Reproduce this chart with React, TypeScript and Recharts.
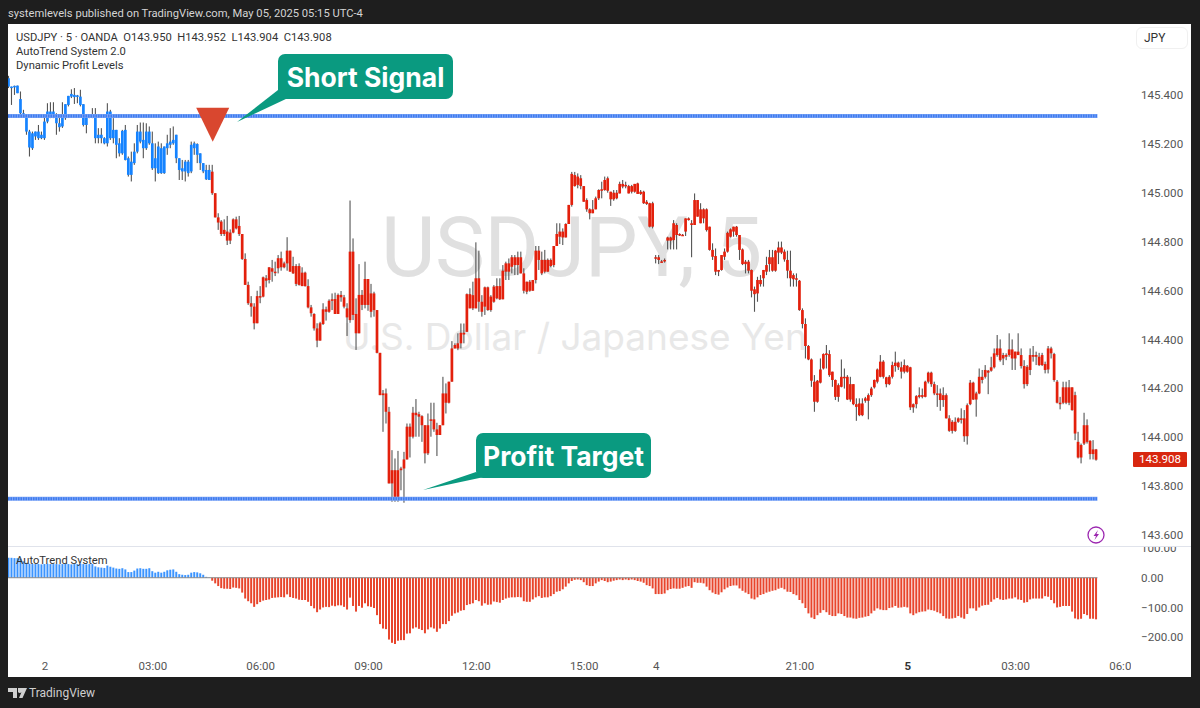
import { Bar, BarChart, Cell, ReferenceDot, ReferenceLine, XAxis, YAxis } from 'recharts'

// 5 minute bars, May 2 to May 5 (one value per bar)
const highs = [
  145.478,145.434,145.438,145.438,145.414,145.339,145.318,145.257,145.250,145.250,
  145.277,145.250,145.318,145.366,145.370,145.370,145.325,145.312,145.370,145.362,
  145.396,145.423,145.428,145.400,145.421,145.362,145.318,145.318,145.346,145.346,
  145.264,145.264,145.227,145.366,145.339,145.305,145.257,145.223,145.257,145.277,
  145.148,145.168,145.202,145.277,145.287,145.287,145.284,145.271,145.250,145.202,
  145.209,145.202,145.189,145.237,145.264,145.271,145.237,145.141,145.134,145.134,
  145.134,145.209,145.209,145.202,145.161,145.121,145.114,145.114,145.114,144.998,
  144.916,144.888,144.891,144.905,144.850,144.895,144.902,144.905,144.831,144.752,
  144.636,144.577,144.548,144.599,144.618,144.657,144.663,144.695,144.725,144.718,
  144.745,144.759,144.718,144.818,144.763,144.738,144.708,144.711,144.695,144.677,
  144.646,144.541,144.507,144.466,144.472,144.548,144.534,144.564,144.588,144.591,
  144.588,144.598,144.582,144.548,144.968,144.813,144.568,144.708,144.602,144.718,
  144.647,144.627,144.595,144.520,144.345,144.193,144.199,144.124,143.947,143.913,
  143.944,143.879,143.940,144.056,144.056,144.124,144.156,144.104,144.090,144.049,
  144.097,144.141,144.141,144.059,144.049,144.247,144.220,144.227,144.393,144.384,
  144.425,144.465,144.465,144.588,144.609,144.636,144.797,144.763,144.581,144.616,
  144.616,144.581,144.622,144.650,144.650,144.704,144.718,144.731,144.745,144.745,
  144.759,144.759,144.691,144.636,144.643,144.643,144.782,144.782,144.759,144.766,
  144.731,144.731,144.782,144.875,144.875,144.854,144.875,144.950,145.085,145.085,
  145.079,145.072,145.027,144.977,144.936,144.970,144.984,145.014,145.045,145.066,
  145.066,145.004,145.011,145.011,145.045,145.052,145.045,145.032,145.032,145.036,
  145.041,145.011,145.008,144.970,144.959,144.963,144.745,144.745,144.725,144.731,
  144.820,144.820,144.888,144.875,144.834,144.831,144.895,144.899,144.888,144.997,
  144.970,144.957,144.936,144.936,144.861,144.793,144.772,144.684,144.745,144.772,
  144.841,144.854,144.861,144.864,144.827,144.772,144.725,144.725,144.686,144.616,
  144.656,144.663,144.684,144.738,144.766,144.766,144.766,144.800,144.800,144.768,
  144.763,144.763,144.670,144.670,144.643,144.527,144.486,144.377,144.322,144.254,
  144.234,144.322,144.343,144.377,144.356,144.268,144.236,144.220,144.318,144.281,
  144.254,144.247,144.217,144.159,144.159,144.159,144.165,144.179,144.206,144.236,
  144.281,144.336,144.315,144.247,144.254,144.309,144.350,144.309,144.309,144.318,
  144.295,144.288,144.138,144.172,144.204,144.199,144.231,144.268,144.268,144.227,
  144.213,144.199,144.204,144.179,144.090,144.070,144.081,144.081,144.118,144.111,
  144.138,144.234,144.227,144.186,144.281,144.275,144.295,144.275,144.329,144.363,
  144.418,144.400,144.345,144.343,144.425,144.400,144.350,144.425,144.363,144.315,
  144.295,144.363,144.373,144.350,144.345,144.345,144.309,144.373,144.370,144.345,
  144.234,144.165,144.227,144.227,144.234,144.204,144.186,144.022,143.974,144.100,
  144.073,143.988,143.988,143.952,
]

const bodyHighs = [
  145.468,145.434,145.437,145.438,145.383,145.325,145.318,145.250,145.243,145.250,
  145.250,145.237,145.291,145.332,145.332,145.332,145.318,145.284,145.312,145.362,
  145.396,145.404,145.400,145.398,145.393,145.362,145.318,145.318,145.318,145.312,
  145.237,145.237,145.223,145.332,145.332,145.257,145.257,145.202,145.253,145.257,
  145.141,145.127,145.168,145.250,145.250,145.216,145.250,145.250,145.202,145.141,
  145.189,145.182,145.189,145.202,145.209,145.216,145.237,145.141,145.100,145.127,
  145.127,145.196,145.202,145.199,145.161,145.121,145.093,145.093,145.086,144.998,
  144.899,144.882,144.848,144.841,144.837,144.891,144.891,144.864,144.831,144.729,
  144.623,144.548,144.534,144.577,144.577,144.654,144.650,144.695,144.691,144.677,
  144.732,144.732,144.711,144.763,144.763,144.700,144.700,144.700,144.673,144.673,
  144.618,144.531,144.504,144.445,144.466,144.523,144.523,144.558,144.564,144.565,
  144.582,144.582,144.572,144.527,144.759,144.759,144.504,144.582,144.582,144.647,
  144.647,144.588,144.588,144.520,144.345,144.179,144.179,144.104,143.865,143.865,
  143.865,143.872,143.909,144.043,144.043,144.100,144.100,144.094,144.086,144.049,
  144.049,144.073,144.073,144.032,144.049,144.179,144.179,144.227,144.363,144.377,
  144.384,144.427,144.427,144.585,144.585,144.581,144.650,144.650,144.554,144.613,
  144.613,144.575,144.616,144.618,144.618,144.681,144.711,144.711,144.736,144.736,
  144.736,144.736,144.670,144.636,144.636,144.643,144.763,144.763,144.725,144.725,
  144.725,144.725,144.782,144.831,144.841,144.841,144.872,144.950,145.077,145.072,
  145.066,145.059,145.027,144.970,144.932,144.932,144.977,145.011,145.014,145.052,
  145.059,145.004,145.000,145.000,145.036,145.036,145.032,145.027,145.027,145.036,
  145.038,145.004,145.004,144.963,144.957,144.957,144.736,144.736,144.719,144.725,
  144.817,144.817,144.875,144.868,144.831,144.828,144.895,144.895,144.875,144.970,
  144.970,144.932,144.932,144.932,144.861,144.766,144.741,144.684,144.745,144.759,
  144.836,144.850,144.861,144.861,144.827,144.768,144.718,144.718,144.684,144.605,
  144.643,144.643,144.684,144.704,144.736,144.736,144.763,144.776,144.776,144.759,
  144.725,144.681,144.663,144.650,144.640,144.520,144.463,144.373,144.318,144.227,
  144.231,144.277,144.340,144.343,144.340,144.268,144.234,144.213,144.247,144.247,
  144.247,144.217,144.217,144.135,144.138,144.138,144.159,144.172,144.199,144.234,
  144.277,144.309,144.309,144.245,144.247,144.295,144.305,144.305,144.286,144.295,
  144.292,144.286,144.135,144.168,144.172,144.172,144.227,144.264,144.264,144.217,
  144.179,144.179,144.172,144.172,144.077,144.063,144.063,144.077,144.077,144.077,
  144.131,144.223,144.223,144.179,144.247,144.247,144.275,144.272,144.286,144.343,
  144.363,144.363,144.336,144.336,144.359,144.359,144.350,144.350,144.336,144.291,
  144.288,144.336,144.336,144.336,144.329,144.336,144.299,144.363,144.363,144.340,
  144.227,144.141,144.204,144.204,144.204,144.204,144.172,143.981,143.968,144.049,
  144.049,143.985,143.950,143.950,
]

const bodyLows = [
  145.434,145.428,145.432,145.407,145.325,145.312,145.250,145.185,145.182,145.230,
  145.223,145.223,145.223,145.291,145.312,145.312,145.284,145.268,145.271,145.305,
  145.359,145.393,145.391,145.393,145.359,145.277,145.277,145.309,145.312,145.223,
  145.223,145.223,145.202,145.202,145.223,145.223,145.196,145.161,145.161,145.134,
  145.073,145.073,145.121,145.168,145.209,145.182,145.182,145.202,145.100,145.100,
  145.080,145.080,145.080,145.182,145.196,145.202,145.141,145.093,145.087,145.087,
  145.080,145.087,145.182,145.155,145.121,145.087,145.055,145.052,144.998,144.899,
  144.878,144.831,144.831,144.804,144.804,144.837,144.854,144.831,144.729,144.623,
  144.548,144.534,144.466,144.466,144.575,144.575,144.640,144.643,144.677,144.673,
  144.691,144.695,144.695,144.711,144.677,144.670,144.627,144.623,144.618,144.618,
  144.531,144.507,144.445,144.395,144.395,144.463,144.513,144.513,144.558,144.504,
  144.504,144.572,144.534,144.490,144.479,144.500,144.425,144.425,144.541,144.541,
  144.541,144.513,144.520,144.345,144.172,144.172,144.104,143.811,143.811,143.756,
  143.756,143.865,143.872,143.909,144.002,144.002,144.090,144.084,144.049,143.934,
  143.934,144.070,144.032,144.009,144.009,144.049,144.141,144.141,144.227,144.363,
  144.363,144.384,144.420,144.431,144.527,144.527,144.527,144.554,144.513,144.534,
  144.520,144.520,144.554,144.568,144.564,144.564,144.677,144.677,144.697,144.704,
  144.704,144.670,144.599,144.595,144.599,144.599,144.643,144.725,144.670,144.677,
  144.677,144.700,144.704,144.782,144.820,144.817,144.817,144.872,144.950,145.027,
  145.032,145.027,144.963,144.932,144.916,144.916,144.932,144.977,145.008,145.011,
  145.008,144.973,144.973,144.977,144.997,145.025,145.027,144.997,145.004,145.004,
  144.995,144.995,144.957,144.954,144.861,144.861,144.733,144.725,144.716,144.719,
  144.804,144.804,144.806,144.827,144.826,144.826,144.841,144.888,144.868,144.868,
  144.902,144.875,144.895,144.847,144.766,144.738,144.677,144.677,144.684,144.738,
  144.759,144.820,144.841,144.827,144.766,144.708,144.708,144.681,144.599,144.585,
  144.588,144.626,144.650,144.677,144.708,144.681,144.681,144.755,144.755,144.727,
  144.681,144.650,144.646,144.646,144.520,144.463,144.373,144.318,144.231,144.145,
  144.145,144.223,144.281,144.336,144.254,144.234,144.165,144.165,144.206,144.247,
  144.154,144.154,144.135,144.124,144.090,144.090,144.149,144.149,144.172,144.204,
  144.227,144.247,144.247,144.217,144.217,144.247,144.291,144.286,144.268,144.268,
  144.268,144.122,144.122,144.135,144.165,144.165,144.165,144.227,144.217,144.179,
  144.176,144.152,144.152,144.077,144.026,144.026,144.026,144.063,144.073,144.004,
  144.004,144.135,144.154,144.154,144.179,144.234,144.247,144.264,144.272,144.286,
  144.336,144.315,144.322,144.329,144.336,144.322,144.322,144.336,144.291,144.217,
  144.217,144.275,144.329,144.329,144.295,144.295,144.275,144.277,144.343,144.234,
  144.141,144.141,144.141,144.141,144.141,144.111,144.015,143.917,143.917,143.974,
  143.981,143.931,143.931,143.908,
]

const lows = [
  145.428,145.359,145.400,145.407,145.312,145.309,145.237,145.148,145.175,145.216,
  145.216,145.219,145.216,145.284,145.305,145.305,145.237,145.250,145.265,145.298,
  145.353,145.387,145.363,145.366,145.353,145.271,145.243,145.305,145.305,145.202,
  145.202,145.202,145.198,145.189,145.216,145.202,145.141,145.148,145.155,145.132,
  145.066,145.046,145.114,145.161,145.202,145.141,145.175,145.196,145.093,145.046,
  145.077,145.077,145.077,145.155,145.182,145.196,145.121,145.052,145.052,145.046,
  145.066,145.080,145.155,145.121,145.093,145.080,145.052,145.052,144.991,144.899,
  144.848,144.823,144.823,144.786,144.790,144.834,144.850,144.823,144.725,144.623,
  144.541,144.493,144.441,144.466,144.548,144.572,144.613,144.629,144.636,144.659,
  144.670,144.681,144.691,144.681,144.677,144.668,144.618,144.620,144.618,144.616,
  144.527,144.493,144.436,144.368,144.395,144.459,144.477,144.509,144.520,144.504,
  144.504,144.554,144.527,144.414,144.468,144.479,144.357,144.425,144.520,144.527,
  144.517,144.490,144.493,144.343,144.172,144.022,144.056,143.811,143.736,143.736,
  143.736,143.783,143.732,143.909,143.917,143.995,144.002,144.002,143.981,143.893,
  143.927,144.002,144.022,143.923,144.009,144.049,144.097,144.138,144.227,144.363,
  144.356,144.363,144.384,144.431,144.527,144.520,144.527,144.513,144.493,144.500,
  144.517,144.513,144.550,144.564,144.561,144.564,144.643,144.643,144.670,144.663,
  144.663,144.670,144.588,144.585,144.595,144.599,144.629,144.684,144.663,144.670,
  144.677,144.695,144.695,144.782,144.790,144.786,144.817,144.872,144.943,145.025,
  145.018,145.014,144.963,144.922,144.891,144.916,144.932,144.970,144.977,145.008,
  145.000,144.946,144.967,144.973,144.997,145.018,145.018,144.997,144.997,145.000,
  144.995,144.991,144.954,144.950,144.858,144.854,144.711,144.708,144.714,144.714,
  144.768,144.768,144.768,144.768,144.823,144.823,144.823,144.886,144.736,144.868,
  144.902,144.875,144.875,144.841,144.763,144.725,144.663,144.659,144.681,144.725,
  144.755,144.817,144.820,144.820,144.725,144.704,144.670,144.670,144.572,144.513,
  144.554,144.616,144.616,144.663,144.677,144.677,144.677,144.708,144.749,144.718,
  144.650,144.616,144.616,144.616,144.517,144.445,144.322,144.315,144.206,144.104,
  144.141,144.220,144.277,144.281,144.247,144.206,144.152,144.145,144.204,144.199,
  144.152,144.145,144.131,144.067,144.086,144.086,144.141,144.073,144.165,144.199,
  144.220,144.245,144.240,144.204,144.213,144.240,144.268,144.275,144.240,144.261,
  144.264,144.111,144.100,144.118,144.159,144.159,144.163,144.220,144.206,144.172,
  144.124,144.108,144.124,144.077,144.022,144.015,144.022,144.059,144.056,143.981,
  143.970,144.131,144.152,144.084,144.176,144.220,144.240,144.176,144.268,144.281,
  144.329,144.309,144.295,144.315,144.329,144.275,144.275,144.336,144.281,144.199,
  144.209,144.254,144.309,144.295,144.291,144.291,144.261,144.261,144.322,144.227,
  144.138,144.114,144.135,144.135,144.131,144.108,143.988,143.913,143.893,143.968,
  143.974,143.909,143.909,143.904,
]

// AutoTrend System histogram, one value per bar
const trendValues = [
  67,67,66,66,64,55,50,47,46,46,46,45,46,47,46,46,46,45,46,47,
  46,45,46,46,47,46,45,46,46,38,35,34,33,41,37,34,31,30,32,28,
  19,19,24,31,32,30,30,32,22,17,20,17,20,25,27,28,20,12,10,9,
  10,17,19,18,15,10,3,1,
  -10,-19,-28,-35,-37,-37,-38,-33,-34,-36,
  -50,-70,-79,-86,-98,-89,-82,-77,-75,-73,
  -68,-67,-66,-65,-66,-56,-65,-68,-70,-74,
  -75,-75,-81,-95,-103,-116,-107,-100,-98,-99,
  -94,-96,-93,-93,-98,-107,-67,-95,-114,-95,
  -101,-86,-96,-98,-102,-126,-156,-171,-173,-208,
  -219,-223,-212,-210,-210,-188,-187,-171,-167,-172,
  -176,-187,-174,-167,-171,-182,-171,-156,-156,-146,
  -128,-120,-117,-111,-109,-92,-89,-86,-75,-79,
  -94,-86,-91,-90,-80,-82,
  -84,-75,-70,-67,-66,-66,-65,-66,-79,-81,-81,-73,-66,-62,-68,-66,-66,-62,-55,-47,
  -45,-39,-30,-19,-11,-7,-6,-8,-15,-25,-28,-28,-19,-13,-8,-11,-15,-13,-10,-8,
  -6,-8,-6,-8,-6,-8,-11,-13,-17,-25,-28,-36,-55,-55,-55,-53,-42,-38,-36,-37,
  -37,-34,-30,-28,-34,-15,-17,-17,-19,-30,-42,-50,-55,-57,-49,-39,-33,-28,-26,-26,
  -36,-44,-50,-55,-70,-73,-66,-58,-55,-50,-47,-44,-42,-37,-34,-39,-47,-48,-55,-59,
  -75,-86,-102,-120,-134,-139,-126,-118,-109,-116,-125,-129,-129,-120,-122,-129,-134,-134,-137,-138,
  -135,-134,-131,-129,-120,-111,-103,-107,-109,-109,-102,-100,-95,-101,-100,-98,-100,-120,-126,-120,
  -116,-114,-113,-107,-109,-111,-116,-120,-129,-137,-138,-137,-135,-129,-134,-138,-122,-103,-103,-111,
  -100,-94,-92,-91,-81,-73,-68,-73,-75,-73,-70,-70,-66,-73,-75,-84,-82,-73,-70,-70,
  -70,-70,-62,-64,-75,-86,-100,-98,-95,-95,-95,-114,-137,-140,-138,-122,-126,-138,-138,-140,
]

const priceTicks = [145.4, 145.2, 145.0, 144.8, 144.6, 144.4, 144.2, 144.0, 143.8, 143.6]
const trendTicks = [100, 0, -100, -200]
const timeTicks = [12, 48, 84, 120, 156, 192, 216, 264, 300, 336, 372]
const timeLabels = ['2', '03:00', '06:00', '09:00', '12:00', '15:00', '4', '21:00', '5', '03:00', '06:00']
const shortLevel = 145.314
const targetLevel = 143.748
const signalBar = 68
const signalPrice = 145.347

const rows = highs.map((high, i) => ({
  i, high, low: lows[i], bodyHigh: bodyHighs[i], bodyLow: bodyLows[i],
  range: [lows[i], high], trend: trendValues[i],
}))

const X_DOMAIN: [number, number] = [-0.33, 374.5]
const FONT = 'Roboto, "Noto Sans", sans-serif'
const BLUE = '#1583ff'
const RED = '#e3200c'
const GREEN = '#0a9a80'

function Candle(props: any) {
  const { x, y, width, height, payload } = props
  const cx = x + width / 2
  const perUnit = height / (payload.high - payload.low || 1)
  const top = y + (payload.high - payload.bodyHigh) * perUnit
  const bodyH = Math.max((payload.bodyHigh - payload.bodyLow) * perUnit, 1.5)
  return (
    <g>
      <rect x={cx - 0.55} y={y} width={1.1} height={height} fill="#555" />
      <rect x={cx - 1.35} y={top} width={2.7} height={bodyH} fill={payload.i < signalBar ? BLUE : RED} />
    </g>
  )
}

function TimeTick(props: any) {
  const { x, y, index } = props
  const label = timeLabels[index]
  return (
    <text x={x} y={y + 5} textAnchor="middle" dominantBaseline="central" fontFamily={FONT} fontSize={11.5}
      fontWeight={label === '5' ? 700 : 400} fill={label === '5' ? '#333' : '#555'}>
      {label}
    </text>
  )
}

const Signal = (props: any) => (
  <polygon
    points={`${props.cx - 16.5},${props.cy} ${props.cx + 16.5},${props.cy} ${props.cx},${props.cy + 34}`}
    fill="#d9472f"
  />
)

function Callout({ x, y, w, h, tail, label }: any) {
  return (
    <g>
      <polygon points={tail} fill={GREEN} />
      <rect x={x} y={y} width={w} height={h} rx={7} fill={GREEN} />
      <text x={x + w / 2} y={y + h / 2} textAnchor="middle" dominantBaseline="central"
        fontFamily='Inter, sans-serif' fontWeight={700} fontSize={26.5} fill="#fff">
        {label}
      </text>
    </g>
  )
}

const abs = (left: number, top: number, extra: object = {}) =>
  ({ position: 'absolute', left, top, ...extra }) as React.CSSProperties

const legendText = { color: '#333', fontSize: 11.2, lineHeight: '14px', whiteSpace: 'pre' }

export default function App() {
  return (
    <div style={{ position: 'fixed', left: 0, top: 0, width: 1200, height: 708, background: '#1e1e1e', fontFamily: FONT, overflow: 'hidden' }}>
      <div style={abs(8, 7, { color: '#d4d4d4', fontSize: 11.2, whiteSpace: 'nowrap' })}>
        systemlevels published on TradingView.com, May 05, 2025 05:15 UTC-4
      </div>

      <div style={abs(8, 24, { width: 1183, height: 653, background: '#fff' })} />

      {/* watermark sits behind the candles */}
      <div style={abs(381, 203, { color: '#e0e0e0', fontSize: 84, lineHeight: '90px', whiteSpace: 'nowrap', letterSpacing: -0.5 })}>USDJPY, 5</div>
      <div style={abs(343, 314, { color: '#e8e8e8', fontFamily: 'Inter, sans-serif', fontSize: 37, lineHeight: '46px', whiteSpace: 'nowrap' })}>U.S. Dollar / Japanese Yen</div>

      <div style={abs(8, 24)}>
        <BarChart width={1183} height={522} data={rows} margin={{ top: 0, right: 0, bottom: 0, left: 0 }}>
          <XAxis dataKey="i" type="number" domain={X_DOMAIN} ticks={timeTicks} hide />
          <YAxis
            orientation="right" width={60} domain={[143.555, 145.69]} ticks={priceTicks}
            tickFormatter={(v: number) => v.toFixed(3)} axisLine={false} tickLine={false}
            tick={{ fill: '#555', fontSize: 11.6, fontFamily: FONT, dx: 2 }} interval={0}
          />
          <Bar dataKey="range" barSize={2} shape={<Candle />} isAnimationActive={false} />
          <ReferenceLine segment={[{ x: X_DOMAIN[0], y: shortLevel }, { x: 363.3, y: shortLevel }]} stroke="#7ba4f6" strokeWidth={4} />
          <ReferenceLine segment={[{ x: X_DOMAIN[0], y: shortLevel }, { x: 363.3, y: shortLevel }]} stroke="#3f7cf0" strokeWidth={3} strokeDasharray="1.5 1" />
          <ReferenceLine segment={[{ x: X_DOMAIN[0], y: targetLevel }, { x: 363.3, y: targetLevel }]} stroke="#7ba4f6" strokeWidth={4} />
          <ReferenceLine segment={[{ x: X_DOMAIN[0], y: targetLevel }, { x: 363.3, y: targetLevel }]} stroke="#3f7cf0" strokeWidth={3} strokeDasharray="1.5 1" />
          <ReferenceDot x={signalBar} y={signalPrice} r={1} shape={<Signal />} />
        </BarChart>
      </div>

      <div style={abs(8, 546, { width: 1183, height: 1, background: '#e0e3eb' })} />

      <div style={abs(8, 547)}>
        <BarChart width={1183} height={130} data={rows} margin={{ top: 0, right: 0, bottom: 0, left: 0 }}>
          <XAxis
            dataKey="i" type="number" domain={X_DOMAIN} ticks={timeTicks} interval={0} height={22}
            axisLine={false} tickLine={false} tick={<TimeTick />} tickMargin={0}
          />
          <YAxis
            orientation="right" width={60} domain={[-260, 103.4]} ticks={trendTicks} interval={0}
            tickFormatter={(v: number) => (v < 0 ? `\u2212${Math.abs(v).toFixed(2)}` : v.toFixed(2))}
            axisLine={false} tickLine={false} tick={{ fill: '#555', fontSize: 11.6, fontFamily: FONT, dx: 2 }}
          />
          <ReferenceLine stroke="#8a8a8a" strokeWidth={1} segment={[{ x: X_DOMAIN[0], y: 0 }, { x: 363.3, y: 0 }]} />
          <Bar dataKey="trend" barSize={2} isAnimationActive={false}>
            {rows.map((r) => (
              <Cell key={r.i} fill={r.trend >= 0 ? '#3b94ff' : '#e8452c'} />
            ))}
          </Bar>
        </BarChart>
      </div>

      {/* cuts the last time label at the edge of the plot, like the original */}
      <div style={abs(1131, 655, { width: 60, height: 22, background: '#fff' })} />

      <svg width={1200} height={708} style={abs(0, 0, { pointerEvents: 'none' })}>
        <Callout x={278} y={54} w={175} h={45} tail="278,90 288,98 237,122" label="Short Signal" />
        <Callout x={476} y={433} w={175} h={45} tail="476,472 484,477 423,490" label="Profit Target" />
        <circle cx={1096} cy={535} r={8} fill="none" stroke="#9c27b0" strokeWidth={1.3} />
        <path d="M1098,530 L1093.5,536 L1096,536 L1094.5,540 L1099,534 L1096.5,534 Z" fill="#9c27b0" />
        <path d="M8,688 H17 V698 H13 V692 H8 Z M18,688 H27 L22.5,698 H19 L21.5,692 A2,2 0 0 1 18,692 Z" fill="#d0d0d0" />
      </svg>

      <div style={abs(16, 30.5, legendText)}>
        {'USDJPY \u00b7 5 \u00b7 OANDA  O143.950  H143.952  L143.904  C143.908'}
      </div>
      <div style={abs(16, 44.5, legendText)}>AutoTrend System 2.0</div>
      <div style={abs(16, 59, legendText)}>Dynamic Profit Levels</div>
      <div style={abs(16, 554, legendText)}>AutoTrend System</div>

      <div style={abs(1136, 27, { width: 52, height: 22, boxSizing: 'border-box', border: '1px solid #f0f0f0', borderRadius: 6, color: '#333', fontSize: 12, lineHeight: '20px', paddingLeft: 7 })}>JPY</div>
      <div style={abs(1133, 452, { width: 54, height: 15, background: '#d8270f', color: '#fff', fontSize: 11.6, lineHeight: '15px', textAlign: 'center', borderRadius: 1 })}>143.908</div>

      <div style={abs(29, 685, { color: '#cfcfcf', fontSize: 12, lineHeight: '16px' })}>TradingView</div>
    </div>
  )
}
